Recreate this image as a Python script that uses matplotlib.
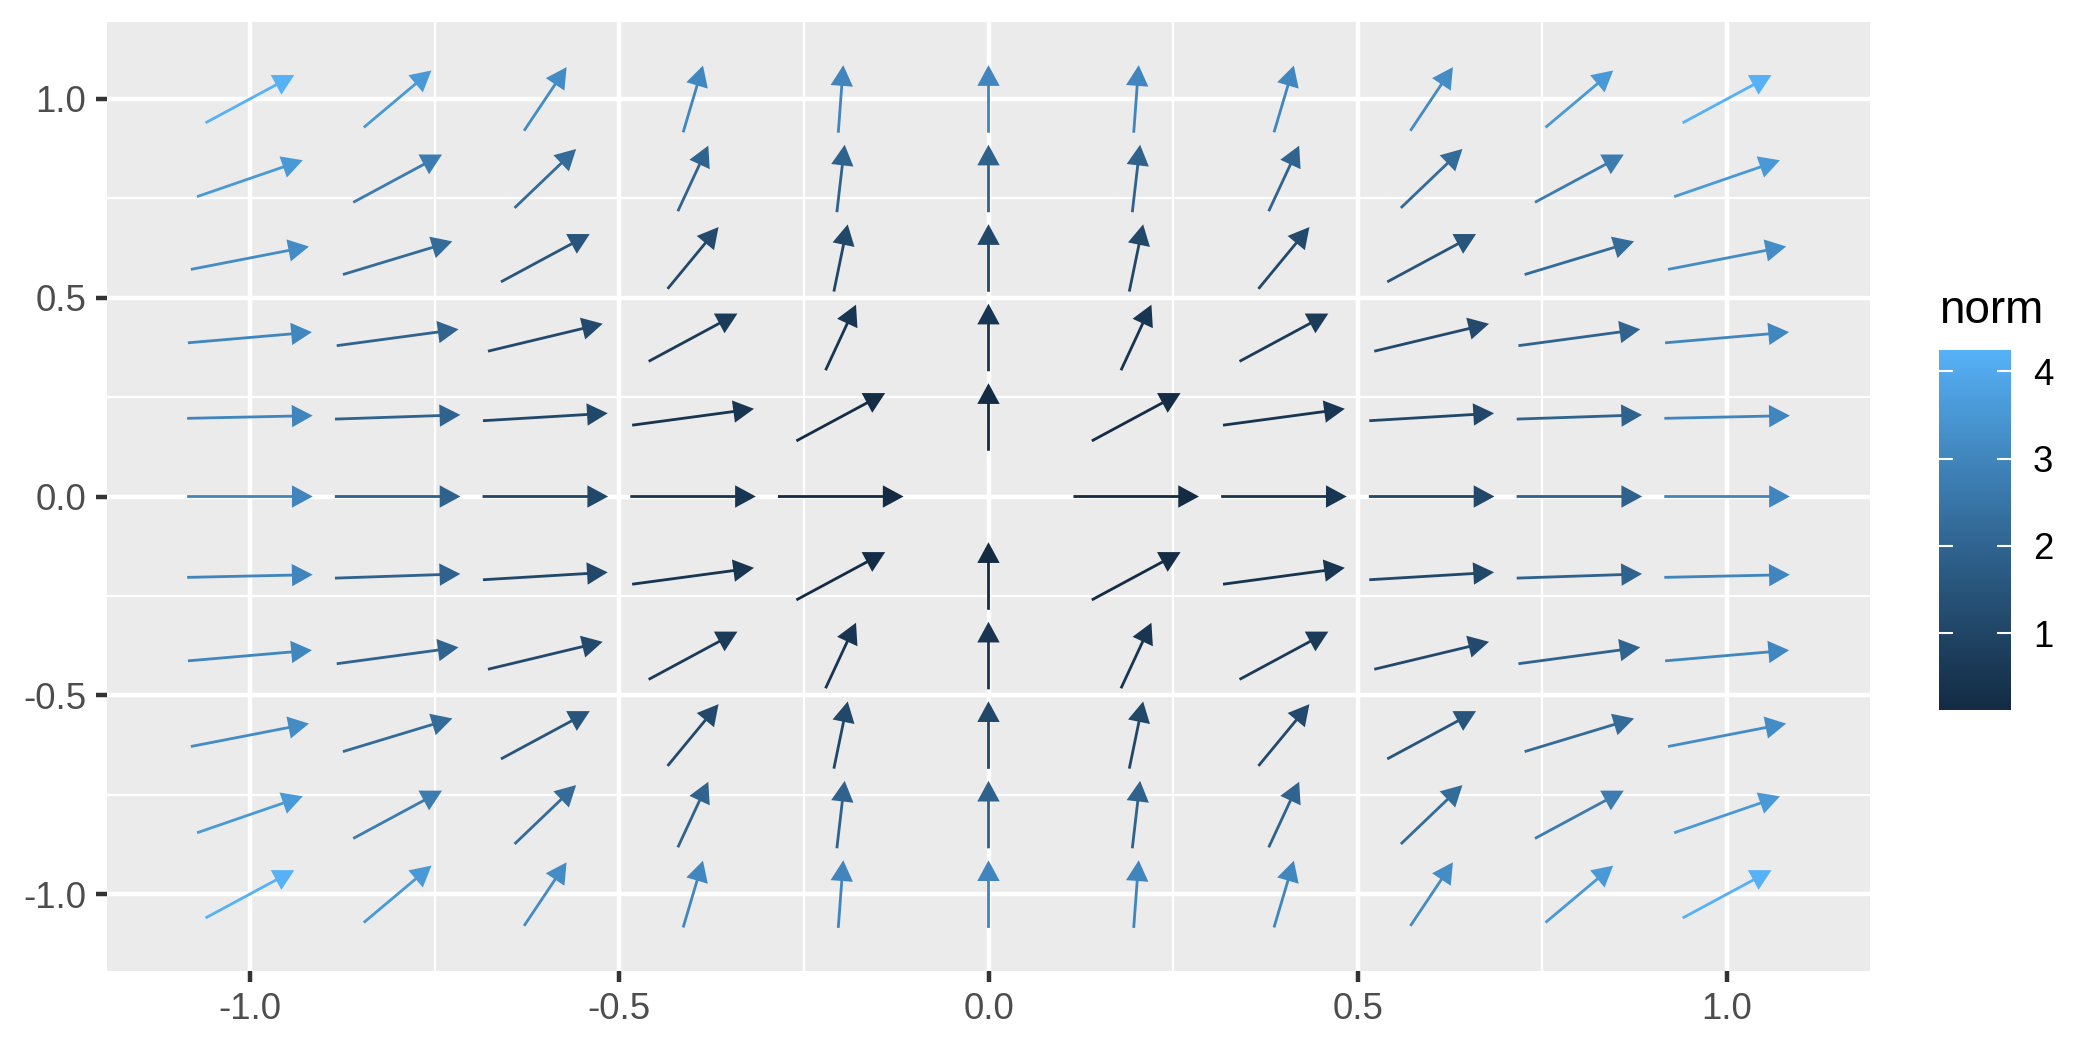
import numpy as np
import matplotlib
matplotlib.use("Agg")
import matplotlib.pyplot as plt
from matplotlib.colors import ListedColormap, Normalize
from matplotlib.cm import ScalarMappable

plt.rcParams['font.family'] = ['Liberation Sans', 'DejaVu Sans']

# grid of the field
x_vals = [-1.0, -0.8, -0.6, -0.4, -0.2, 0.0, 0.2, 0.4, 0.6, 0.8, 1.0]
y_vals = [-1.0, -0.8, -0.6, -0.4, -0.2, 0.0, 0.2, 0.4, 0.6, 0.8, 1.0]
u_col = [3.0, 1.92, 1.08, 0.48, 0.12, 0.0, 0.12, 0.48, 1.08, 1.92, 3.0]
v_row = [3.0, 1.92, 1.08, 0.48, 0.12, 0.0, 0.12, 0.48, 1.08, 1.92, 3.0]

arrow_len = 0.17       # every arrow drawn with the same length (data units)
color_tick_vals = [1, 2, 3, 4]
axis_ticks = [-1.0, -0.5, 0.0, 0.5, 1.0]
minor_ticks = [-0.75, -0.25, 0.25, 0.75]


def hex_to_lab(h):
    rgb = np.array([int(h[i:i + 2], 16) for i in (1, 3, 5)]) / 255.0
    lin = np.where(rgb <= 0.04045, rgb / 12.92, ((rgb + 0.055) / 1.055) ** 2.4)
    M = np.array([[0.4124, 0.3576, 0.1805],
                  [0.2126, 0.7152, 0.0722],
                  [0.0193, 0.1192, 0.9505]])
    xyz = M @ lin / np.array([0.95047, 1.0, 1.08883])
    f = np.where(xyz > 0.008856, np.cbrt(xyz), 7.787 * xyz + 16 / 116)
    return np.array([116 * f[1] - 16, 500 * (f[0] - f[1]), 200 * (f[1] - f[2])])


def lab_to_rgb(lab):
    L, a, b = lab
    fy = (L + 16) / 116
    fx = fy + a / 500
    fz = fy - b / 200
    f = np.array([fx, fy, fz])
    xyz = np.where(f ** 3 > 0.008856, f ** 3, (f - 16 / 116) / 7.787)
    xyz = xyz * np.array([0.95047, 1.0, 1.08883])
    Minv = np.array([[3.2406, -1.5372, -0.4986],
                     [-0.9689, 1.8758, 0.0415],
                     [0.0557, -0.2040, 1.0570]])
    lin = Minv @ xyz
    rgb = np.where(lin <= 0.0031308, 12.92 * lin, 1.055 * np.clip(lin, 0, None) ** (1 / 2.4) - 0.055)
    return np.clip(rgb, 0, 1)


# ggplot2 default continuous colour gradient, interpolated in Lab
lab_lo = hex_to_lab("#132B43")
lab_hi = hex_to_lab("#56B1F7")
ramp = [lab_to_rgb(lab_lo + t * (lab_hi - lab_lo)) for t in np.linspace(0, 1, 256)]
cmap = ListedColormap(ramp)

# build the table of arrows (centre point has no direction -> dropped)
xs, ys, dxs, dys, norms = [], [], [], [], []
for j, y in enumerate(y_vals):
    for i, x in enumerate(x_vals):
        u, v = u_col[i], v_row[j]
        n = np.hypot(u, v)
        if n == 0:
            continue
        xs.append(x)
        ys.append(y)
        dxs.append(arrow_len * u / n)
        dys.append(arrow_len * v / n)
        norms.append(n)
norms = np.array(norms)
cnorm = Normalize(vmin=norms.min(), vmax=norms.max())

fig = plt.figure(figsize=(7, 3.5), dpi=300)
ax = fig.add_axes([107 / 2100, 1 - 971 / 1050, (1870 - 107) / 2100, (971 - 22) / 1050])
ax.set_facecolor("#EBEBEB")
for s in ax.spines.values():
    s.set_visible(False)

ax.set_xticks(axis_ticks)
ax.set_yticks(axis_ticks)
ax.set_xticks(minor_ticks, minor=True)
ax.set_yticks(minor_ticks, minor=True)
ax.grid(True, which="major", color="white", linewidth=1.07)
ax.grid(True, which="minor", color="white", linewidth=0.53)
ax.set_axisbelow(True)
ax.tick_params(which="major", length=2.75, width=1.07, color="#333333",
               labelsize=8.8, labelcolor="#4D4D4D", pad=2.2)
ax.tick_params(which="minor", length=0)
ax.set_xticklabels([f"{t:.1f}" for t in axis_ticks])
ax.set_yticklabels([f"{t:.1f}" for t in axis_ticks])

ax.quiver(xs, ys, dxs, dys, norms, cmap=cmap, norm=cnorm,
          angles="xy", scale_units="xy", scale=1, pivot="middle",
          units="dots", width=2.8, headwidth=8.0, headlength=7.4,
          headaxislength=7.4, minshaft=0.5, minlength=0)

lim = 1.0 + arrow_len / 2
pad = 2 * lim * 0.05
ax.set_xlim(-lim - pad, lim + pad)
ax.set_ylim(-lim - pad, lim + pad)

# colour bar legend
cax = fig.add_axes([1939 / 2100, 1 - 710 / 1050, 72 / 2100, 360 / 1050])
sm = ScalarMappable(norm=cnorm, cmap=cmap)
cb = fig.colorbar(sm, cax=cax, ticks=color_tick_vals)
cb.outline.set_visible(False)
cax.tick_params(axis="y", left=True, right=True, direction="in", color="white",
                length=3.45, width=0.5, labelsize=8.8, labelcolor="black", pad=5.3,
                labelleft=False, labelright=True)
fig.text(1939 / 2100, 1 - 323 / 1050, "norm", fontsize=11, color="black",
         ha="left", va="baseline")

fig.savefig("out.png", dpi=300)
